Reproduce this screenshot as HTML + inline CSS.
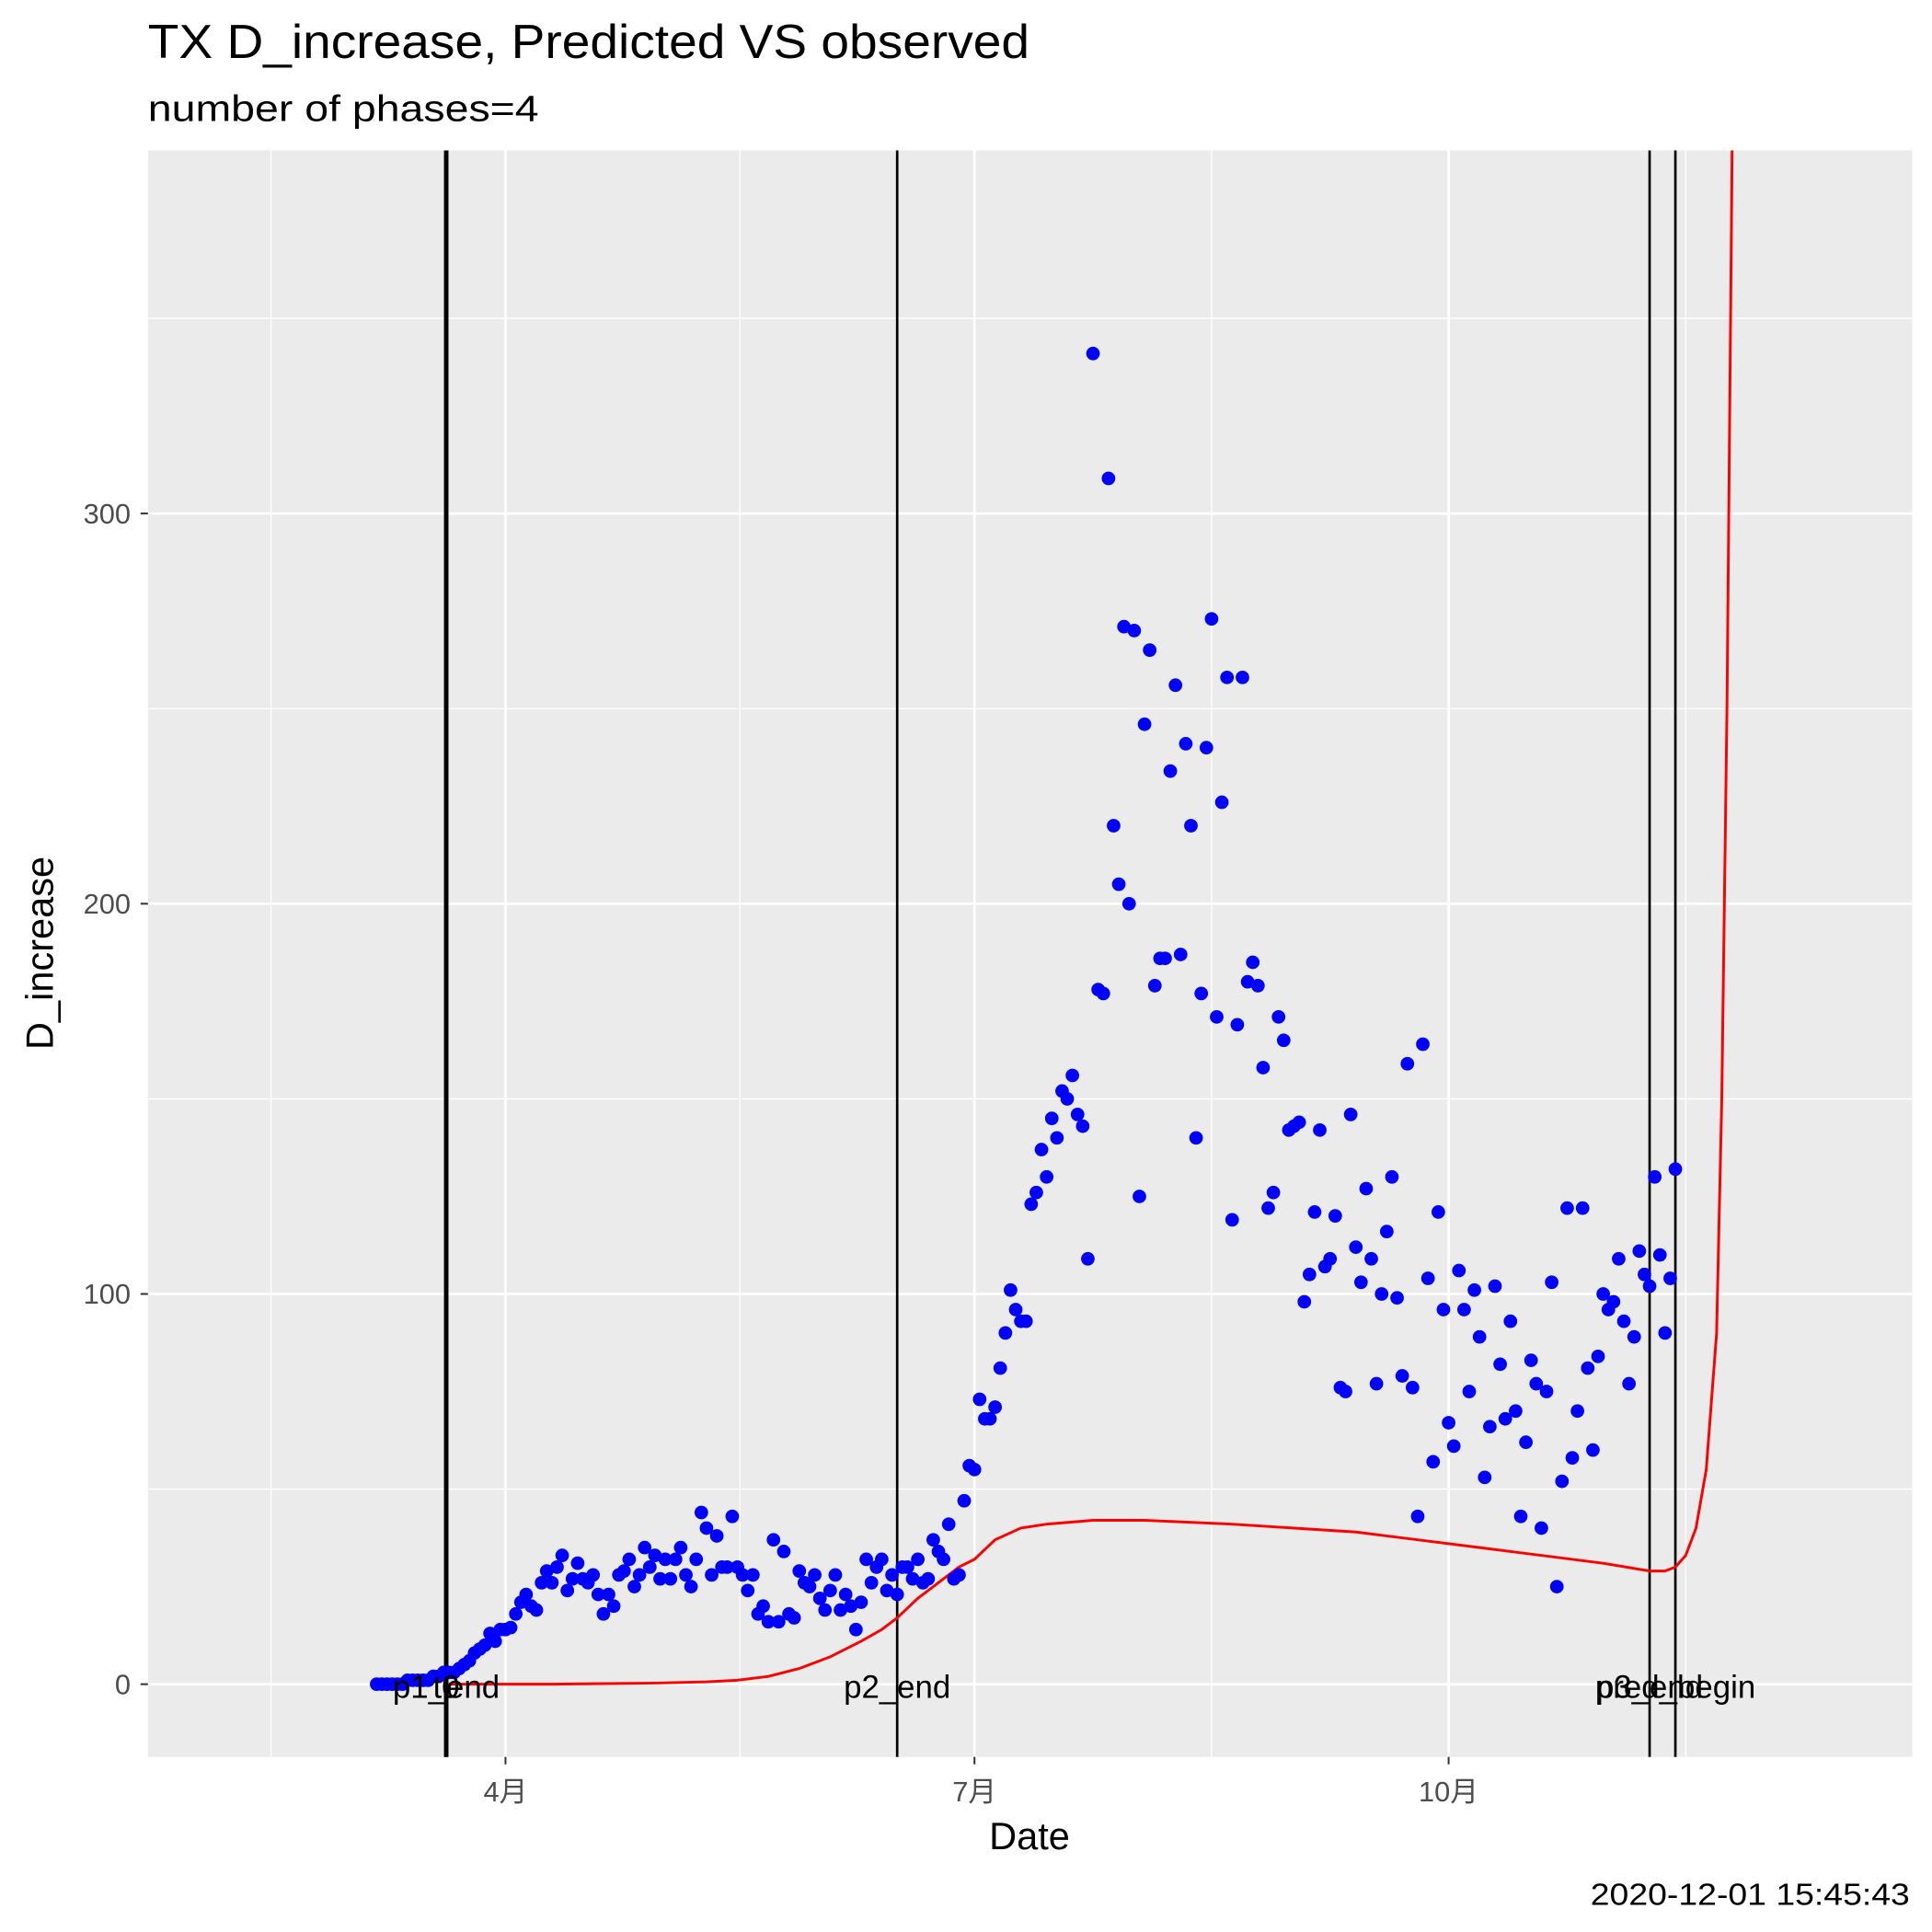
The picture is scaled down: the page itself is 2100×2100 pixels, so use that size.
<!DOCTYPE html>
<html><head><meta charset="utf-8"><style>html,body{margin:0;padding:0;background:#fff}svg{display:block}text{font-family:"Liberation Sans","Noto Sans CJK SC",sans-serif}</style></head>
<body>
<svg id="chart" width="2100" height="2100" viewBox="0 0 1567 1567" xmlns="http://www.w3.org/2000/svg">
<text x="120" y="47" font-size="39" fill="#000" textLength="715" lengthAdjust="spacingAndGlyphs">TX D_increase, Predicted VS observed</text>
<text x="120" y="98" font-size="30" fill="#000" textLength="317" lengthAdjust="spacingAndGlyphs">number of phases=4</text>
<rect x="120" y="122" width="1431" height="1303" fill="#ebebeb"/>
<g id="grid"></g><g id="vlines"></g><g id="pred"></g><g id="pts"></g><g id="labels"></g><g id="axes"></g>
<text x="835" y="1500" font-size="31" text-anchor="middle">Date</text>
<text transform="translate(43,773) rotate(-90)" font-size="31" text-anchor="middle">D_increase</text>
<text x="1549" y="1545" font-size="25" text-anchor="end" textLength="259" lengthAdjust="spacingAndGlyphs">2020-12-01 15:45:43</text>
</svg>
<script>
// day-of-year (Jan 1 = 0)
const obsStart = 66;
const observed = [0,0,0,0,0,0,1,1,1,1,1,2,2,3,3,
3,4,5,6,8,9,10,13,11,14,14,
14.5,18,21,23,20,19,26,29,26,30,33,24,27,31,27,26,28,23,18,23,
20,28,29,32,25,28,35,30,33,27,32,27,32,35,28,25,32,44,40,28,
38,30,30,43,30,28,24,28,18,20,16,37,16,34,18,17,29,26,25,28,
22,19,24,28,19,23,20,14,21,32,26,30,32,24,28,23,30,30,27,32,
26,27,37,34,32,41,27,28,47,56,55,73,68,68,71,81,90,101,96,93,
93,123,126,137,130,145,140,152,150,
156,146,143,109,341,178,177,309,220,205,271,200,270,125,246,265,179,186,186,234,
256,187,241,220,140,177,240,273,171,226,258,119,169,258,180,185,179,158,122,126,
171,165,142,143,144,98,105,121,142,107,109,120,76,75,146,112,103,127,109,77,
100,116,130,99,79,159,76,43,164,104,57,121,96,67,61,106,96,75,101,89,
53,66,102,82,68,93,70,43,62,83,77,40,75,103,25,52,122,58,70,122,
81,60,84,100,96,98,109,93,77,89,111,105,102,130,110,90,104,132];
const predDays = [80,100,120,130,136,142,148,154,160,164,167,171,175,179,182,186,191,196,205,215,232,256,280,304,313,316,318,320,322,324,326,327,328,329,330];
const predVals = [0,0,0.3,0.6,1,2,4,7,11,14,17,22,26,30,32,37,40,41,42,42,41,39,35,31,29,29,30,33,40,55,90,150,250,390,600];
const vlineDays = [79.5,79.5,167,313,318];
const vlineNames = ["p1_end","t0","p2_end","p3_end","pred_begin"];
const yTicks = [0,100,200,300];
const yMinor = [50,150,250,350];
const xTickDays = [91,182,274];
const xTickLabels = ["4月","7月","10月"];
const xMinorDays = [45.5,136.5,228,320];

const X = d => 410 + (d - 91) * 4.18;
const Y = v => 1366 - v * 3.165;
const NS = "http://www.w3.org/2000/svg";
function mk(tag, attrs, parent){const e=document.createElementNS(NS,tag);for(const k in attrs)e.setAttribute(k,attrs[k]);document.getElementById(parent).appendChild(e);return e;}

yMinor.forEach(v=>{const e=mk('line',{x1:120,x2:1551,y1:Y(v),y2:Y(v),stroke:'#fff','stroke-width':1},'grid');

});
xMinorDays.forEach(d=>{const e=mk('line',{x1:X(d),x2:X(d),y1:122,y2:1425,stroke:'#fff','stroke-width':1},'grid');

});
yTicks.forEach(v=>{const e=mk('line',{x1:120,x2:1551,y1:Y(v),y2:Y(v),stroke:'#fff','stroke-width':2},'grid');


const t=mk('line',{x1:114,x2:120,y1:Y(v),y2:Y(v),stroke:'#333','stroke-width':1.5},'axes');


const l=mk('text',{x:106,y:Y(v)+8,'font-size':23,fill:'#4d4d4d','text-anchor':'end'},'axes');l.textContent=v;

});
xTickDays.forEach((d,i)=>{const e=mk('line',{x1:X(d),x2:X(d),y1:122,y2:1425,stroke:'#fff','stroke-width':2},'grid');


const t=mk('line',{x1:X(d),x2:X(d),y1:1425,y2:1431,stroke:'#333','stroke-width':1.5},'axes');


const l=mk('text',{x:X(d),y:1461,'font-size':23,fill:'#4d4d4d','text-anchor':'middle'},'axes');l.textContent=xTickLabels[i];

});

vlineDays.forEach((d,i)=>{const e=mk('line',{x1:X(d),x2:X(d),y1:122,y2:1425,stroke:'#000','stroke-width':i<2?3.5:2},'vlines');


const l=mk('text',{x:X(d),y:1377,'font-size':26,fill:'#000','text-anchor':'middle'},'labels');l.textContent=vlineNames[i];

});

mk('clipPath',{id:'clipP'},'pred');
const cr=document.createElementNS(NS,'rect');cr.setAttribute('x',120);cr.setAttribute('y',122);cr.setAttribute('width',1431);cr.setAttribute('height',1303);
document.getElementById('clipP').appendChild(cr);
const pts=predDays.map((d,i)=>X(d).toFixed(1)+','+Y(predVals[i]).toFixed(1)).join(' ');
const pl=mk('polyline',{points:pts,fill:'none',stroke:'#ff0000','stroke-width':2.2,'stroke-linejoin':'round','clip-path':'url(#clipP)'},'pred');



observed.forEach((v,i)=>{const c=mk('circle',{cx:X(obsStart+i),cy:Y(v),r:5.5,fill:'#0000ff'},'pts');

});
</script>
</body></html>
